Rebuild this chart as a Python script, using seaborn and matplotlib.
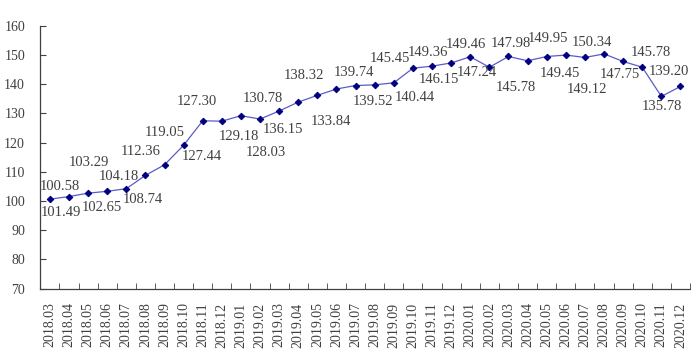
import numpy as np
import pandas as pd
import matplotlib
matplotlib.use('Agg')
import matplotlib.pyplot as plt
from matplotlib.ticker import MultipleLocator, FixedLocator
import seaborn as sns

# monthly index values
months = ['2018.03', '2018.04', '2018.05', '2018.06', '2018.07', '2018.08', '2018.09',
          '2018.10', '2018.11', '2018.12',
          '2019.01', '2019.02', '2019.03', '2019.04', '2019.05', '2019.06', '2019.07',
          '2019.08', '2019.09', '2019.10', '2019.11', '2019.12',
          '2020.01', '2020.02', '2020.03', '2020.04', '2020.05', '2020.06', '2020.07',
          '2020.08', '2020.09', '2020.10', '2020.11', '2020.12']
values = [100.58, 101.49, 102.65, 103.29, 104.18, 108.74, 112.36, 119.05, 127.44, 127.30,
          129.18, 128.03, 130.78, 133.84, 136.15, 138.32, 139.52, 139.74, 140.44, 145.45,
          146.15, 147.24, 149.36, 145.78, 149.46, 147.98, 149.45, 149.95, 149.12, 150.34,
          147.75, 145.78, 135.78, 139.20]

# label offsets from each point (pixels, right / down)
label_dx = [10, -8, 14, -18, -7, -3, -24, -19, -1, -25,
            -2, 6, -16, 33, -34, -33, 17, -21, 21, -23,
            7, 26, -42, 26, -43, -17, 13, -18, 2, -12,
            -3, 9, 1, -12]
label_dy = [-13, 16, 14, -29, -12, 24, -13, -13, 36, -20,
            21, 33, -13, 19, 34, -14, 16, -12, 15, -10,
            13, 10, -4, 20, -12, -17, 17, -17, 32, -11,
            13, -15, 10, -15]

df = pd.DataFrame({'pos': np.arange(len(months)), 'value': values})

sns.set_style('white')
plt.rcParams['font.family'] = ['Liberation Serif', 'DejaVu Serif']

fig = plt.figure(figsize=(6.91, 3.64), dpi=100)
ax = fig.add_axes([0.0583, 0.2074, 0.9403, 0.722])

sns.lineplot(data=df, x='pos', y='value', ax=ax, color='#5B5BC8', linewidth=0.9,
             marker='D', markersize=3.3, markerfacecolor='#000080',
             markeredgecolor='#000080')

text_color = '#404040'
for i, v in enumerate(values):
    ax.annotate(f'{v:.2f}', xy=(i, v), xytext=(label_dx[i], -label_dy[i]),
                textcoords='offset pixels', ha='center', va='center',
                fontsize=10.5, color=text_color)

ax.set_xlim(-0.5, len(months) - 0.5)
ax.set_ylim(70, 160)
ax.yaxis.set_major_locator(MultipleLocator(10))
ax.set_xticks(np.arange(len(months)))
ax.set_xticklabels(months, rotation=90)
ax.xaxis.set_minor_locator(FixedLocator(np.arange(len(months) + 1) - 0.5))
ax.tick_params(axis='x', which='major', length=0, pad=10, labelsize=10, colors=text_color)
ax.tick_params(axis='x', which='minor', direction='in', length=4, color='#404040', bottom=True)
ax.tick_params(axis='y', direction='in', length=4, pad=11, labelsize=10,
               colors=text_color, left=True)
ax.set_xlabel('')
ax.set_ylabel('')

for side in ['top', 'right']:
    ax.spines[side].set_visible(False)
for side in ['left', 'bottom']:
    ax.spines[side].set_color('#404040')
    ax.spines[side].set_linewidth(0.9)

fig.savefig('out.png', dpi=100)
